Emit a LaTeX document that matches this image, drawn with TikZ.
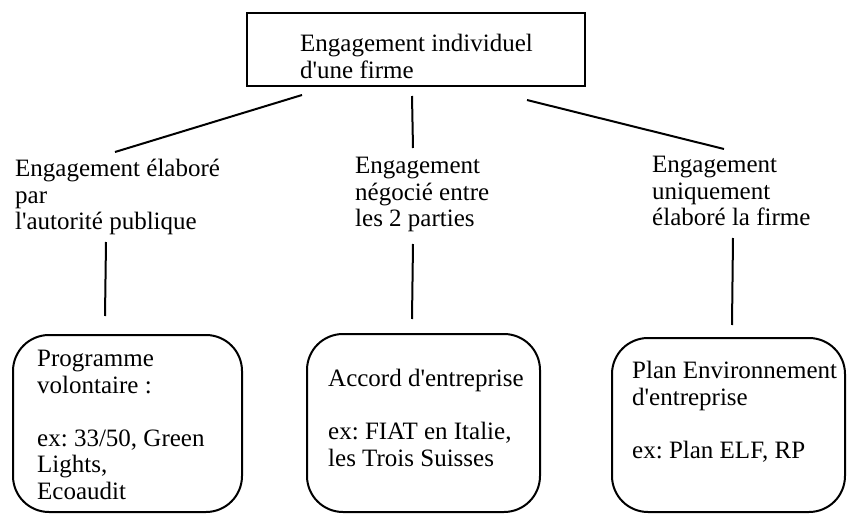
\documentclass[tikz,border=0pt]{standalone}
\usepackage{fontspec}
\setmainfont{Liberation Serif}
\frenchspacing
\tikzset{
  lbl/.style={anchor=north west,inner sep=0pt,align=left,font=\fontsize{25}{26.5}\selectfont},
  cadre/.style={draw,line width=2pt,rounded corners=36pt,inner sep=0pt},
  trait/.style={line width=2pt}
}
\newcommand{\apos}{\textquotesingle}
\begin{document}
\begin{tikzpicture}[x=1pt,y=-1pt]
\useasboundingbox (0,0) rectangle (847,514);
% boite du haut
\node[draw,line width=2pt,minimum width=338pt,minimum height=73pt,inner sep=0pt] (firme) at (416,49.5) {};
\node[lbl] (firmetxt) at (300,34) {Engagement individuel\\d\apos une firme};
% les trois types d'engagement
\node[lbl] (publique) at (15,159) {Engagement élaboré\\par\\l\apos autorité publique};
\node[lbl] (parties) at (355,157) {Engagement\\négocié entre\\les 2 parties};
\node[lbl] (seule) at (652,156) {Engagement\\uniquement\\élaboré la firme};
% les exemples
\node[cadre,minimum width=229pt,minimum height=177pt] (programme) at (127.5,423.5) {};
\node[cadre,minimum width=233pt,minimum height=178pt] (accord) at (423.5,423) {};
\node[cadre,minimum width=233pt,minimum height=174pt] (plan) at (728.5,425) {};
\node[lbl] (programmetxt) at (37,350) {Programme\\volontaire :\\[26.5pt]ex: 33/50, Green\\Lights,\\Ecoaudit};
\node[lbl] (accordtxt) at (328,369) {Accord d\apos entreprise\\[26.5pt]ex: FIAT en Italie,\\les Trois Suisses};
\node[lbl] (plantxt) at (632,361) {Plan Environnement\\d\apos entreprise\\[26.5pt]ex: Plan ELF, RP};
% traits
\coordinate (a1) at ([shift={(56,8)}]firme.south west);
\coordinate (a2) at ([shift={(166,9)}]firme.south west);
\coordinate (a3) at ([shift={(281,13)}]firme.south west);
\coordinate (b1) at ([shift={(100,-7)}]publique.north west);
\coordinate (b2) at ([shift={(58,-9)}]parties.north west);
\coordinate (b3) at ([shift={(72,-7)}]seule.north west);
\draw[trait] (a1) -- (b1);
\draw[trait] (a2) -- (b2);
\draw[trait] (a3) -- (b3);
\coordinate (c1) at ([shift={(91,83)}]publique.north west);
\coordinate (c2) at ([shift={(58,87)}]parties.north west);
\coordinate (c3) at ([shift={(81,82)}]seule.north west);
\coordinate (d1) at ([shift={(93,-18)}]programme.north west);
\coordinate (d2) at ([shift={(106,-14)}]accord.north west);
\coordinate (d3) at ([shift={(121,-12)}]plan.north west);
\draw[trait] (c1) -- (d1);
\draw[trait] (c2) -- (d2);
\draw[trait] (c3) -- (d3);
\end{tikzpicture}
\end{document}
